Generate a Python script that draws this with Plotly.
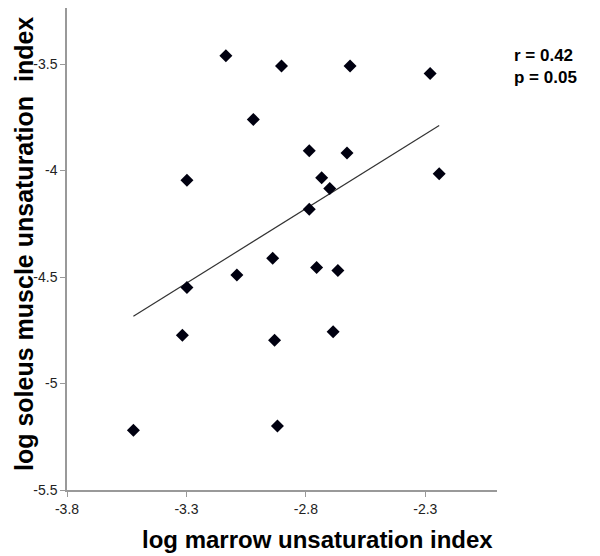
import numpy as np
import plotly.graph_objects as go

# log marrow unsaturation index (x) vs log soleus muscle unsaturation index (y)
marrow = [-3.135, -2.902, -3.020, -3.298, -2.939, -3.089, -2.615, -2.280,
          -2.786, -2.628, -2.242, -2.734, -2.700, -2.786, -2.755, -2.666,
          -3.298, -3.317, -2.931, -3.522, -2.919, -2.686]
soleus = [-3.461, -3.509, -3.760, -4.046, -4.412, -4.491, -3.509, -3.545,
          -3.907, -3.918, -4.015, -4.034, -4.084, -4.182, -4.455, -4.470,
          -4.549, -4.774, -4.797, -5.220, -5.200, -4.757]

x_ticks = [-3.8, -3.3, -2.8, -2.3]
x_labels = ["-3.8", "-3.3", "-2.8", "-2.3"]
y_ticks = [-5.5, -5.0, -4.5, -4.0, -3.5]
y_labels = ["-5.5", "-5", "-4.5", "-4", "-3.5"]

stats_text = ["r = 0.42", "p = 0.05"]

# linear trend line over the data range
slope, intercept = np.polyfit(marrow, soleus, 1)
trend_x = [min(marrow), max(marrow)]
trend_y = [slope * v + intercept for v in trend_x]

fig = go.Figure()
fig.add_trace(go.Scatter(x=trend_x, y=trend_y, mode="lines",
                         line=dict(color="#333333", width=1.2), hoverinfo="skip"))
fig.add_trace(go.Scatter(x=marrow, y=soleus, mode="markers",
                         marker=dict(symbol="diamond", size=10, color="#000010")))

fnt = "Liberation Sans, Arial"
fig.add_annotation(text="<b>" + "<br>".join(stats_text) + "</b>", xref="paper", yref="paper",
                   x=1.035, y=0.878, xanchor="left", yanchor="middle", showarrow=False,
                   align="left", font=dict(family=fnt, size=17, color="black"))

# axis titles as annotations so they can sit where the original has them
fig.add_annotation(text="<b>log marrow unsaturation index</b>", xref="paper", yref="paper",
                   x=(309 - 59) / 430, y=-0.103, xanchor="center", yanchor="middle",
                   showarrow=False, font=dict(family=fnt, size=24, color="black"))
fig.add_annotation(text="<b>log soleus muscle unsaturation  index</b>", xref="paper", yref="paper",
                   x=-59 / 430, y=(482 - 236) / 482, xanchor="left", yanchor="middle",
                   textangle=-90, showarrow=False, font=dict(family=fnt, size=25, color="black"))

axis_font = dict(family=fnt, size=14, color="#222222")

fig.update_layout(
    width=600, height=556,
    margin=dict(l=59, r=111, t=0, b=74),
    paper_bgcolor="white", plot_bgcolor="white",
    showlegend=False,
    xaxis=dict(range=[-3.8, -2.0], tickvals=x_ticks, ticktext=x_labels,
               showline=True, linecolor="#999999", linewidth=1.5,
               ticks="outside", ticklen=5, tickcolor="#999999", automargin=False,
               showgrid=False, zeroline=False, tickfont=axis_font),
    yaxis=dict(range=[-5.5, -3.237], tickvals=y_ticks, ticktext=y_labels,
               showline=True, linecolor="#999999", linewidth=1.5,
               ticks="outside", ticklen=5, tickcolor="#999999", automargin=False,
               showgrid=False, zeroline=False, tickfont=axis_font),
)

fig.write_html("out.html")
